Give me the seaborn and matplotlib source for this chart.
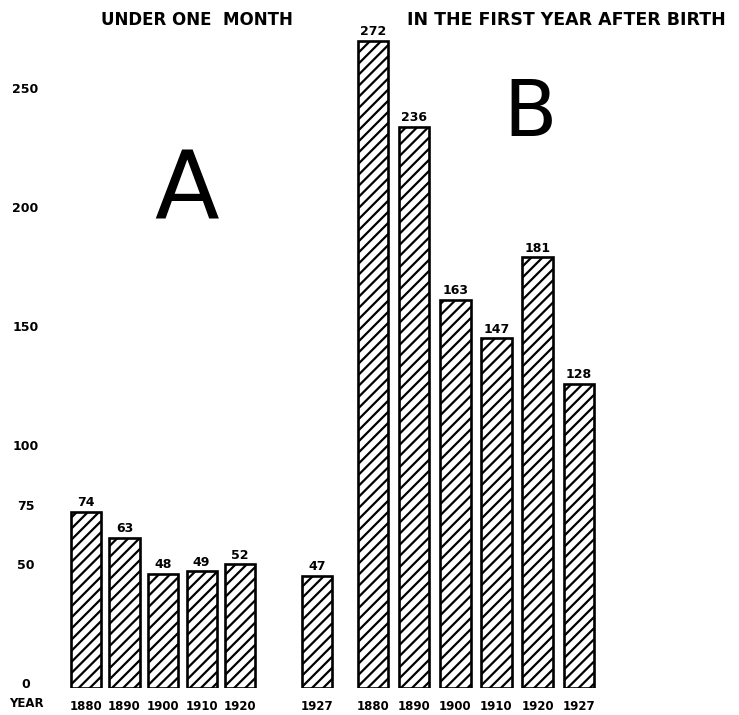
import matplotlib
matplotlib.use("Agg")
import matplotlib.pyplot as plt
import matplotlib.transforms as mtransforms
import seaborn as sns

# Panel A: deaths under one month
years_a = ['1880', '1890', '1900', '1910', '1920', '1927']
vals_a = [74, 63, 48, 49, 52, 47]
# Panel B: deaths in the first year after birth
years_b = ['1880', '1890', '1900', '1910', '1920', '1927']
vals_b = [272, 236, 163, 147, 181, 128]
y_ticks = [0, 50, 75, 100, 150, 200, 250]

sns.set_style("white")
plt.rcParams['font.family'] = ['DejaVu Sans']
plt.rcParams['hatch.linewidth'] = 1.6
plt.rcParams['text.color'] = 'black'
plt.rcParams['xtick.color'] = 'black'
plt.rcParams['ytick.color'] = 'black'

fig = plt.figure(figsize=(7.39, 7.15), dpi=100)
ax_a = fig.add_axes([0.0851, 0.0378, 0.37, 0.9315])
ax_b = fig.add_axes([0.4713, 0.0378, 0.3397, 0.9315])

bar_kw = dict(color='white', edgecolor='black', linewidth=1.9, hatch='///')

# blank slot before 1927 in panel A, like the gap in the original
order_a = years_a[:5] + [''] + years_a[5:]
sns.barplot(x=years_a, y=vals_a, order=order_a, ax=ax_a, width=0.78, **bar_kw)
sns.barplot(x=years_b, y=vals_b, order=years_b, ax=ax_b, width=0.74, **bar_kw)

for ax in (ax_a, ax_b):
    ax.set_facecolor('none')
    ax.set_ylim(0, 280)
    ax.set_xlabel('')
    ax.set_ylabel('')
    for s in ax.spines.values():
        s.set_visible(False)
    ax.tick_params(axis='x', length=0, pad=9, labelsize=8.5)
    for t in ax.get_xticklabels():
        t.set_fontweight('bold')
    for c in ax.containers:
        ax.bar_label(c, padding=2, fontsize=9, fontweight='bold')

ax_a.set_xlim(-0.6, 6.5)
ax_b.set_xlim(-0.6, 5.5)

ax_a.set_yticks(y_ticks)
ax_a.set_yticklabels([str(v) for v in y_ticks], fontsize=9, fontweight='bold',
                     ha='center')
ax_a.tick_params(axis='y', length=0, pad=27)
shift = mtransforms.ScaledTranslation(0, 0.05, fig.dpi_scale_trans)
for t in ax_a.get_yticklabels():
    t.set_transform(t.get_transform() + shift)
ax_b.set_yticks([])

fig.text(0.267, 0.972, 'UNDER ONE  MONTH', ha='center', va='center',
         fontsize=12, fontweight='bold')
fig.text(0.767, 0.972, 'IN THE FIRST YEAR AFTER BIRTH', ha='center', va='center',
         fontsize=12.5, fontweight='bold')
fig.text(0.253, 0.73, 'A', ha='center', va='center', fontsize=68)
fig.text(0.717, 0.84, 'B', ha='center', va='center', fontsize=56)
fig.text(0.036, 0.016, 'YEAR', ha='center', va='center', fontsize=8.5, fontweight='bold')

fig.savefig('out.png', dpi=100)
